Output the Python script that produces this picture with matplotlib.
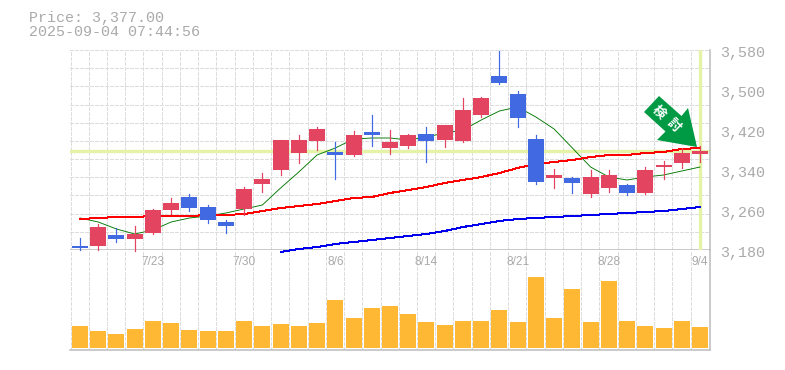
import matplotlib
matplotlib.use('Agg')
import matplotlib.pyplot as plt
from matplotlib.patches import Polygon
from matplotlib.transforms import Affine2D

opens = [3188, 3188, 3210, 3202, 3214, 3260, 3286, 3266, 3236, 3262, 3312, 3340, 3374, 3398, 3376, 3370, 3416, 3384,
         3388, 3412, 3400, 3398, 3450, 3528, 3492, 3402, 3324, 3324, 3292, 3304, 3310, 3294, 3346, 3354, 3372]
closes = [3184, 3226, 3202, 3212, 3260, 3274, 3264, 3240, 3228, 3302, 3322, 3400, 3400, 3422, 3370, 3410, 3410, 3396,
          3410, 3398, 3430, 3460, 3484, 3514, 3444, 3316, 3330, 3314, 3326, 3330, 3294, 3340, 3350, 3374, 3378]
highs = [3204, 3232, 3224, 3228, 3262, 3284, 3292, 3270, 3240, 3306, 3334, 3400, 3410, 3426, 3396, 3418, 3450, 3420,
         3412, 3426, 3430, 3484, 3486, 3578, 3498, 3410, 3342, 3326, 3340, 3340, 3312, 3346, 3358, 3384, 3388]
lows = [3180, 3180, 3196, 3178, 3212, 3252, 3258, 3234, 3214, 3250, 3296, 3330, 3354, 3380, 3322, 3368, 3388, 3372,
        3384, 3356, 3386, 3396, 3446, 3512, 3426, 3312, 3304, 3294, 3286, 3296, 3290, 3292, 3322, 3344, 3356]
volumes = [22, 17, 14, 19, 27, 25, 18, 17, 17, 27, 22, 24, 22, 25, 48, 30, 40, 42,
           34, 26, 23, 27, 27, 38, 26, 71, 30, 59, 26, 67, 27, 22, 20, 27, 21]
ma_short = [3244, 3236, 3222, 3212, 3220, 3236, 3244, 3248, 3254, 3262, 3270, 3304, 3336, 3370, 3384, 3402, 3404, 3404,
            3400, 3406, 3414, 3420, 3440, 3458, 3466, 3446, 3422, 3384, 3346, 3326, 3320, 3326, 3330, 3338, 3346]
ma_mid = [3242, 3244, 3246, 3246, 3248, 3248, 3248, 3250, 3250, 3252, 3258, 3264, 3268, 3272, 3278, 3284, 3286, 3294,
          3300, 3306, 3314, 3320, 3326, 3334, 3344, 3352, 3356, 3360, 3366, 3370, 3370, 3374, 3376, 3382, 3384]
ma_long = [None] * 11 + [3176, 3182, 3186, 3192, 3196, 3200, 3204, 3208, 3212, 3218, 3226, 3232, 3238, 3242, 3244,
                         3246, 3248, 3250, 3252, 3254, 3256, 3258, 3262, 3266]
tick_pos = [4, 9, 14, 19, 24, 29, 34]
tick_labels = ['7/23', '7/30', '8/6', '8/14', '8/21', '8/28', '9/4']
price_ticks = [3180, 3260, 3340, 3420, 3500, 3580]
last_price = 3378

RED = '#e34460'
BLUE = '#4169e1'
GRAY = '#aaaaaa'
EDGE = '#bbbbbb'
GRID = '#dddddd'
PALE = '#e4f3a8'
W, H = 785, 370
PX = 72 / 100  # one pixel in points

fig = plt.figure(figsize=(W / 100, H / 100), dpi=100)
vol = fig.add_axes([70 / W, 1 - 350 / H, 639.5 / W, 100 / H])
ax = fig.add_axes([70 / W, 1 - 250 / H, 639.5 / W, 200 / H], sharex=vol)
ax.patch.set_visible(False)
vol.patch.set_visible(False)

xs = list(range(len(closes)))
ax.set_xlim(-0.548, 34.52)
ax.set_ylim(3180, 3580)
vol.set_ylim(-2, 98)

# grid, drawn by hand so that it runs through the label strip
for a in (ax, vol):
    for i in range(35):
        a.axvline(i - 0.52, color=GRID, lw=PX, ls=(0, (3, 2)), zorder=0, antialiased=False)
    a.set_yticks([])
    a.tick_params(length=0, labelbottom=False, labelleft=False)
    for s in a.spines.values():
        s.set_visible(False)
    a.spines['right'].set_visible(True)
    a.spines['right'].set_color(EDGE)
    a.spines['right'].set_linewidth(1.5 * PX)
for i in range(12):
    ax.axhline(3180 + i * 400 / 11, color=GRID, lw=PX, ls=(0, (3, 2)), zorder=0, antialiased=False)
ax.axhline(3180, color=EDGE, lw=1.5 * PX, zorder=1)
vol.axhline(-2, color=EDGE, lw=1.5 * PX, zorder=1, clip_on=False)

ax.axhline(last_price, color=PALE, lw=3.4 * PX, zorder=2)
ax.axvline(34, ymin=0.01, color=PALE, lw=3.4 * PX, zorder=2)

ax.plot(xs, ma_short, color='#007700', lw=0.9 * PX, zorder=3)
ax.plot(xs, ma_mid, color='#ff0000', lw=PX, zorder=3, antialiased=False)
ax.plot(xs, [float('nan') if v is None else v for v in ma_long], color='#0000ee', lw=PX, zorder=3,
        clip_on=False, antialiased=False)

for i in xs:
    c = RED if closes[i] >= opens[i] else BLUE
    ax.plot([i, i], [lows[i], highs[i]], color=c, lw=1.2 * PX, zorder=4, clip_on=False)
    ax.bar(i, abs(closes[i] - opens[i]), bottom=min(opens[i], closes[i]), width=0.877, color=c, zorder=5)

vol.bar(xs, volumes, width=0.877, color='#ffb833', zorder=3)

# tick labels
for p, t in zip(tick_pos, tick_labels):
    vol.annotate(t, (p, 1.0), xycoords=vol.get_xaxis_transform(), xytext=(0, -6 * PX), textcoords='offset points',
                 ha='center', va='top', color=GRAY, family='Liberation Sans', fontsize=8.6)
for p in price_ticks:
    ax.annotate(f'{p:,}', (1, p), xycoords=ax.get_yaxis_transform(), xytext=(10.5 * PX, -3 * PX),
                textcoords='offset points', ha='left', va='center', color=GRAY, family='Liberation Mono',
                fontsize=10.8, annotation_clip=False)

fig.text(29 / W, 1 - 18 / H, 'Price: 3,377.00', color=GRAY, family='Liberation Mono', fontsize=10.8, va='center')
fig.text(29 / W, 1 - 32 / H, '2025-09-04 07:44:56', color=GRAY, family='Liberation Mono', fontsize=10.8, va='center')

# buy signal arrow, offsets in pixels from its tip
arrow = [(0, 0), (-40, -7), (-31.5, -15.5), (-53, -35), (-38, -51), (-15.5, -31), (-9, -39)]
tip = ax.transData.transform((34, highs[34]))
ax.add_patch(Polygon(arrow, closed=True, fc='#009944', ec='none', zorder=6, clip_on=False,
                     transform=Affine2D().scale(1, -1) + Affine2D().translate(tip[0] - 3, tip[1] - 1)))
for cx, cy, ch in [(31.75, 3455, '検'), (32.59, 3430, '討')]:
    ax.text(cx, cy, ch, rotation=-45, rotation_mode='anchor', ha='center', va='center', color='white',
            fontsize=9.5, fontweight='bold', family='Noto Sans CJK JP', zorder=7)

fig.savefig('out.png', dpi=100)
